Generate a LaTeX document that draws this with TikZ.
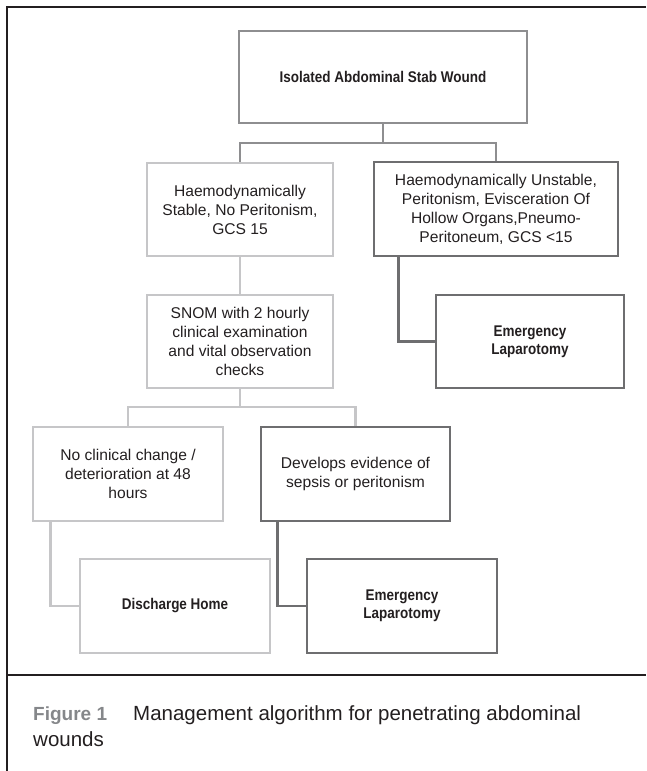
\documentclass[tikz,border=0pt]{standalone}
\usepackage{fontspec}
\setmainfont{Liberation Sans}
\newfontfamily\bcond[FakeStretch=0.87]{Liberation Sans}
\usetikzlibrary{calc}
\definecolor{light}{HTML}{C6C6C8}
\definecolor{med}{HTML}{8E8E90}
\definecolor{dark}{HTML}{6E6E70}
\definecolor{ink}{HTML}{231F20}
\definecolor{figgray}{HTML}{85878A}
\begin{document}
\begin{tikzpicture}[x=1pt,y=-1pt,
  box/.style={draw, line width=2.7pt, rectangle, inner sep=0pt, align=center, text=ink,
    font=\fontsize{15.6}{19}\selectfont},
  bbox/.style={box, font=\bcond\bfseries\fontsize{15.5}{18}\selectfont},
  lbox/.style={draw=light},
  mbox/.style={draw=med},
  dbox/.style={draw=dark},
  conn/.style={line width=2.7pt},
  frame/.style={draw=ink, line width=2.3pt},
]
\useasboundingbox (0,0) rectangle (646,771);

% frame
\draw[frame] (7,771) -- (7,7) -- (646,7);
\draw[frame] (7,675) -- (646,675);

% nodes
\node[bbox, mbox, minimum width=288pt, minimum height=92pt] (top) at (383,77) {Isolated Abdominal Stab Wound};
\node[box, lbox, minimum width=186pt, minimum height=93pt] (stable) at (240,209.5)
  {Haemodynamically\\Stable, No Peritonism,\\GCS 15};
\node[box, dbox, minimum width=244pt, minimum height=94pt] (unstable) at (496,209)
  {Haemodynamically Unstable,\\Peritonism, Evisceration Of\\Hollow Organs,Pneumo-\\Peritoneum, GCS <15};
\node[bbox, dbox, minimum width=188pt, minimum height=93pt] (emerg1) at (530,341.5) {Emergency\\Laparotomy};
\node[box, lbox, minimum width=186pt, minimum height=93pt] (snom) at (240,341.5)
  {SNOM with 2 hourly\\clinical examination\\and vital observation\\checks};
\node[box, lbox, minimum width=190pt, minimum height=94pt] (noclin) at (128,474)
  {No clinical change /\\deterioration at 48\\hours};
\node[box, dbox, minimum width=189pt, minimum height=94pt] (develops) at (355.5,474)
  {Develops evidence of\\sepsis or peritonism};
\node[bbox, lbox, minimum width=190pt, minimum height=94pt] (discharge) at (175,606) {Discharge Home};
\node[bbox, dbox, minimum width=190pt, minimum height=94pt] (emerg2) at (402,606) {Emergency\\Laparotomy};

% connectors
\coordinate (bar1) at (383,143);
\coordinate (bar2) at (240,407);
\draw[conn, med] (top.south) -- (bar1);
\draw[conn, med] (stable.north) |- (bar1) -| (unstable.north);
\draw[conn, light] (stable.south) -- (snom.north);
\draw[conn, light] (snom.south) -- (bar2);
\draw[conn, light] (noclin.north) |- (bar2) -| (develops.north);
\draw[conn, dark] ([xshift=26pt]unstable.south west) |- (emerg1.west);
\draw[conn, light] ([xshift=19pt]noclin.south west) |- (discharge.west);
\draw[conn, dark] ([xshift=18pt]develops.south west) |- (emerg2.west);

% caption
\node[anchor=base west, inner sep=0pt, text=figgray, font=\bfseries\fontsize{19}{24}\selectfont] (figlab) at (33,720) {Figure 1};
\node[anchor=base west, inner sep=0pt, text=ink, font=\fontsize{20.5}{26}\selectfont] (cap1) at (133,720) {Management algorithm for penetrating abdominal};
\node[anchor=base west, inner sep=0pt, text=ink, font=\fontsize{20.5}{26}\selectfont] (cap2) at (33,746) {wounds};
\end{tikzpicture}
\end{document}
